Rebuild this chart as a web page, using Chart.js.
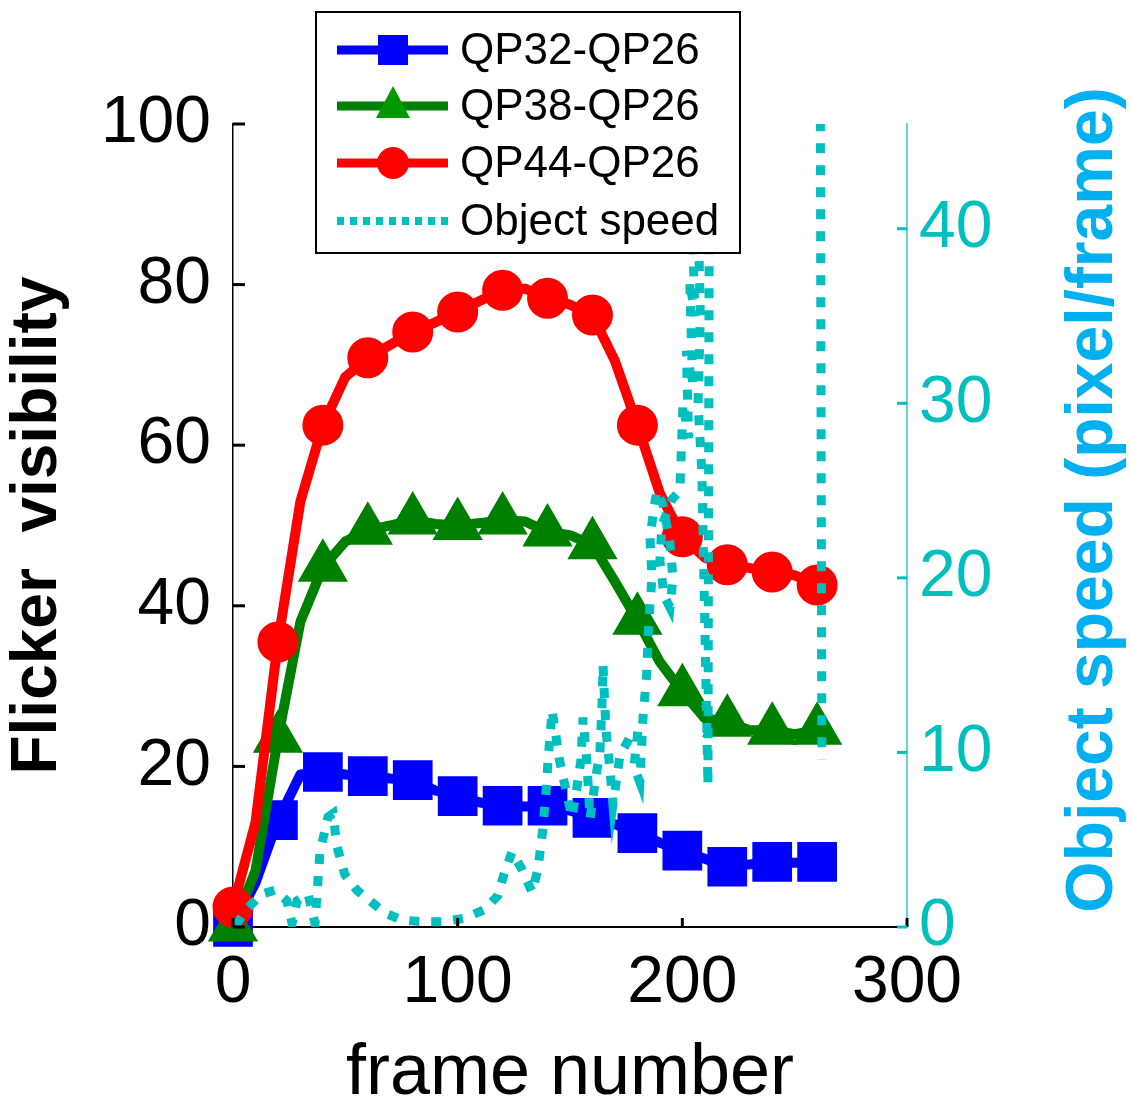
<!DOCTYPE html>
<html>
<head>
<meta charset="utf-8">
<title>Flicker visibility</title>
<script src="https://cdn.jsdelivr.net/npm/chart.js@4.4.1/dist/chart.umd.min.js"></script>
<style>
  html, body { margin: 0; padding: 0; background: #fff; }
  #wrap { width: 1131px; height: 1101px; position: relative; }
</style>
</head>
<body>
<div id="wrap"><canvas id="chart"></canvas></div>
<script>
// frame numbers for the three flicker curves (markers every 20 frames)
const frames = [0, 10, 20, 30, 40, 50, 60, 70, 80, 90, 100, 110, 120, 130,
                140, 150, 160, 170, 180, 190, 200, 210, 220, 230, 240, 250, 260];

const qp32 = [0, 5.5, 13.3, 19.0, 19.3, 19.0, 18.8, 18.5, 18.3, 17.0, 16.3, 15.5, 15.1, 15.0,
              15.1, 14.5, 13.6, 12.8, 11.7, 10.5, 9.5, 8.5, 7.5, 7.8, 8.1, 8.0, 8.1];
const qp38 = [0, 7.0, 23.5, 38.0, 44.8, 48.0, 49.4, 50.0, 50.7, 50.2, 50.0, 50.3, 50.7, 50.5,
              49.2, 48.8, 47.6, 43.0, 38.2, 33.0, 29.3, 26.0, 25.5, 24.5, 24.5, 24.0, 24.5];
const qp44 = [2.5, 13.0, 35.5, 53.0, 62.5, 68.5, 70.9, 72.5, 74.1, 75.3, 76.6, 78.0, 79.3, 79.5,
              78.3, 77.5, 76.2, 70.5, 62.5, 54.0, 48.6, 46.0, 45.1, 44.7, 44.2, 43.8, 42.6];

// object speed (right axis), its own frame positions
const speedFrames = [1.3, 6.7, 12.9, 18.7, 24.0, 26.3, 28.5, 33.4, 36.5, 38.7, 42.3, 44.5, 46.3, 49.8,
                     55.2, 61.9, 67.6, 75.2, 84.6, 93.0, 103.2, 112.1, 117.9, 121.0, 124.2, 128.6, 133.1,
                     135.7, 138.0, 138.8, 139.7, 140.2, 141.1, 142.0, 143.7, 145.1, 146.9, 149.1, 150.9,
                     153.1, 154.9, 155.8, 157.5, 158.9, 161.5, 163.3, 164.2, 164.7, 166.0, 167.8, 169.1,
                     172.2, 176.7, 180.2, 178.5, 181.1, 182.5, 184.2, 184.7, 185.6, 186.5, 185.6, 187.4,
                     188.7, 191.4, 194.5, 195.8, 194.5, 191.8, 190.0, 190.9, 195.4, 198.9, 200.3, 202.8,
                     201.8, 204.6, 203.3, 205.6, 204.3, 206.2, 207.2, 208.0, 207.0, 208.7, 209.6, 210.5,
                     211.4, 212.3, 261.2, 262.1];
const speedValues = [0.1, 1.1, 1.9, 2.1, 1.5, 0.2, 1.5, 1.9, 0.2, 4.3, 6.3, 6.5, 4.6, 3.0,
                     2.1, 1.4, 0.8, 0.4, 0.3, 0.3, 0.5, 1.0, 1.8, 3.2, 4.3, 3.3, 2.0,
                     3.3, 5.7, 7.0, 8.3, 9.6, 10.9, 12.4, 11.0, 9.7, 8.6, 7.3, 6.3,
                     8.0, 9.6, 12.0, 9.5, 6.2, 8.6, 10.0, 12.6, 15.0, 11.3, 9.0, 7.0,
                     9.8, 10.9, 11.2, 9.2, 8.3, 12.0, 14.6, 16.5, 18.5, 20.0, 22.3, 24.0,
                     25.0, 24.2, 22.0, 20.0, 18.3, 19.0, 21.0, 23.0, 24.5, 25.0, 30.0, 28.0,
                     33.0, 31.0, 37.0, 35.0, 41.0, 44.0, 40.0, 35.0, 30.0, 26.0, 20.0, 14.0,
                     8.1, 60, 60, 9.6];

const leftTicks  = [0, 20, 40, 60, 80, 100];
const rightTicks = [0, 10, 20, 30, 40];
const xTicks     = [0, 100, 200, 300];

const FONT = '"Liberation Sans", Arial, sans-serif';
const CYAN = '#00BFBF';

function pts(xs, ys) {
  return xs.map((x, i) => ({ x, y: ys[i] }));
}

const markerRadius = (r) => frames.map(f => (f % 20 === 0 ? r : 0));

const legendItems = [
  { label: 'QP32-QP26', color: '#0000FF', marker: 'rect' },
  { label: 'QP38-QP26', color: '#008000', marker: 'triangle', fill: '#009900' },
  { label: 'QP44-QP26', color: '#FF0000', marker: 'circle' },
  { label: 'Object speed', color: CYAN, marker: 'dots' }
];

// inward tick marks, rotated right-axis title and the boxed legend
const overlay = {
  id: 'overlay',
  afterDraw(chart) {
    const { ctx, chartArea: a, scales } = chart;
    ctx.save();
    ctx.lineCap = 'butt';

    ctx.strokeStyle = '#000';
    ctx.lineWidth = 3;
    leftTicks.forEach(v => {
      const y = scales.y.getPixelForValue(v);
      ctx.beginPath(); ctx.moveTo(a.left, y); ctx.lineTo(a.left + 12, y); ctx.stroke();
    });
    xTicks.forEach(v => {
      const x = scales.x.getPixelForValue(v);
      ctx.beginPath(); ctx.moveTo(x, a.bottom); ctx.lineTo(x, a.bottom - 9); ctx.stroke();
    });
    ctx.strokeStyle = CYAN;
    rightTicks.forEach(v => {
      const y = scales.y2.getPixelForValue(v);
      ctx.beginPath(); ctx.moveTo(a.right, y); ctx.lineTo(a.right - 10, y); ctx.stroke();
    });

    // right axis title, reading bottom to top
    ctx.save();
    ctx.translate(1094, 500);
    ctx.rotate(-Math.PI / 2);
    ctx.fillStyle = '#00B0F0';
    ctx.font = 'bold 66px ' + FONT;
    ctx.textAlign = 'center';
    ctx.textBaseline = 'middle';
    ctx.fillText('Object speed (pixel/frame)', 0, 0);
    ctx.restore();

    // legend box
    const bx = 316, by = 12, bw = 424, bh = 241;
    ctx.fillStyle = '#fff';
    ctx.fillRect(bx, by, bw, bh);
    ctx.strokeStyle = '#000';
    ctx.lineWidth = 2;
    ctx.strokeRect(bx, by, bw, bh);

    const rows = [50, 106, 163, 221];
    ctx.font = '44px ' + FONT;
    ctx.textBaseline = 'middle';
    ctx.textAlign = 'left';
    legendItems.forEach((it, i) => {
      const y = rows[i];
      ctx.strokeStyle = it.color;
      if (it.marker === 'dots') {
        ctx.lineWidth = 8;
        ctx.setLineDash([7, 6]);
      } else {
        ctx.lineWidth = 9;
        ctx.setLineDash([]);
      }
      ctx.beginPath(); ctx.moveTo(337, y); ctx.lineTo(448, y); ctx.stroke();
      ctx.setLineDash([]);
      ctx.fillStyle = it.fill || it.color;
      if (it.marker === 'rect') {
        ctx.fillRect(393 - 15, y - 15, 30, 30);
      } else if (it.marker === 'triangle') {
        ctx.beginPath();
        ctx.moveTo(393, y - 20); ctx.lineTo(410, y + 12); ctx.lineTo(376, y + 12);
        ctx.closePath(); ctx.fill();
      } else if (it.marker === 'circle') {
        ctx.beginPath(); ctx.arc(393, y, 16, 0, Math.PI * 2); ctx.fill();
      }
      ctx.fillStyle = '#000';
      ctx.fillText(it.label, 460, y + 2);
    });
    ctx.restore();
  }
};

const lineBase = {
  borderWidth: 10,
  tension: 0,
  borderJoinStyle: 'round',
  borderCapStyle: 'round',
  clip: false,
  yAxisID: 'y'
};

new Chart(document.getElementById('chart'), {
  type: 'line',
  data: {
    datasets: [
      {
        label: 'Object speed',
        data: pts(speedFrames, speedValues),
        yAxisID: 'y2',
        borderColor: CYAN,
        borderWidth: 9,
        borderDash: [10, 12],
        borderCapStyle: 'butt',
        borderJoinStyle: 'miter',
        pointRadius: 0,
        tension: 0,
        order: 0
      },
      Object.assign({}, lineBase, {
        label: 'QP44-QP26',
        data: pts(frames, qp44),
        borderColor: '#FF0000',
        backgroundColor: '#FF0000',
        pointStyle: 'circle',
        pointRadius: markerRadius(15.5),
        pointBorderColor: '#FF0000',
        pointBackgroundColor: '#FF0000',
        order: 1
      }),
      Object.assign({}, lineBase, {
        label: 'QP38-QP26',
        data: pts(frames, qp38),
        borderColor: '#008000',
        backgroundColor: '#008000',
        pointStyle: 'triangle',
        pointRadius: markerRadius(19),
        pointBorderColor: '#008000',
        pointBackgroundColor: '#008000',
        order: 2
      }),
      Object.assign({}, lineBase, {
        label: 'QP32-QP26',
        data: pts(frames, qp32),
        borderColor: '#0000FF',
        backgroundColor: '#0000FF',
        pointStyle: 'rect',
        pointRadius: markerRadius(21),
        pointBorderColor: '#0000FF',
        pointBackgroundColor: '#0000FF',
        order: 3
      })
    ]
  },
  options: {
    responsive: true,
    maintainAspectRatio: false,
    animation: false,
    devicePixelRatio: 1,
    layout: { padding: { top: 124, left: 0, right: 0, bottom: 0 } },
    plugins: { legend: { display: false }, tooltip: { enabled: false } },
    scales: {
      x: {
        type: 'linear',
        position: 'bottom',
        min: 0, max: 300,
        afterFit: s => { s.height = 174; },
        afterBuildTicks: s => { s.ticks = xTicks.map(v => ({ value: v })); },
        grid: { display: false, drawTicks: false },
        border: { display: true, color: '#000', width: 2 },
        ticks: { color: '#000', padding: 17, maxRotation: 0, font: { family: FONT, size: 66 } },
        title: {
          display: true, text: 'frame number', color: '#000', padding: 0,
          font: { family: FONT, size: 72, lineHeight: 0.75 }
        }
      },
      y: {
        type: 'linear',
        position: 'left',
        min: 0, max: 100,
        afterFit: s => { s.width = 233; },
        afterBuildTicks: s => { s.ticks = leftTicks.map(v => ({ value: v })); },
        grid: { display: false, drawTicks: false },
        border: { display: true, color: '#000', width: 1.5 },
        ticks: { color: '#000', padding: 22, font: { family: FONT, size: 66 } },
        title: {
          display: true, text: 'Flicker  visibility', color: '#000', padding: 0,
          font: { family: FONT, size: 64, weight: 'bold' }
        }
      },
      y2: {
        type: 'linear',
        position: 'right',
        min: 0, max: 46,
        afterFit: s => { s.width = 224; },
        afterBuildTicks: s => { s.ticks = rightTicks.map(v => ({ value: v })); },
        grid: { display: false, drawTicks: false },
        border: { display: true, color: '#5CD6D6', width: 2 },
        ticks: { color: CYAN, padding: 12, font: { family: FONT, size: 66 } }
      }
    }
  },
  plugins: [overlay]
});
</script>
</body>
</html>
